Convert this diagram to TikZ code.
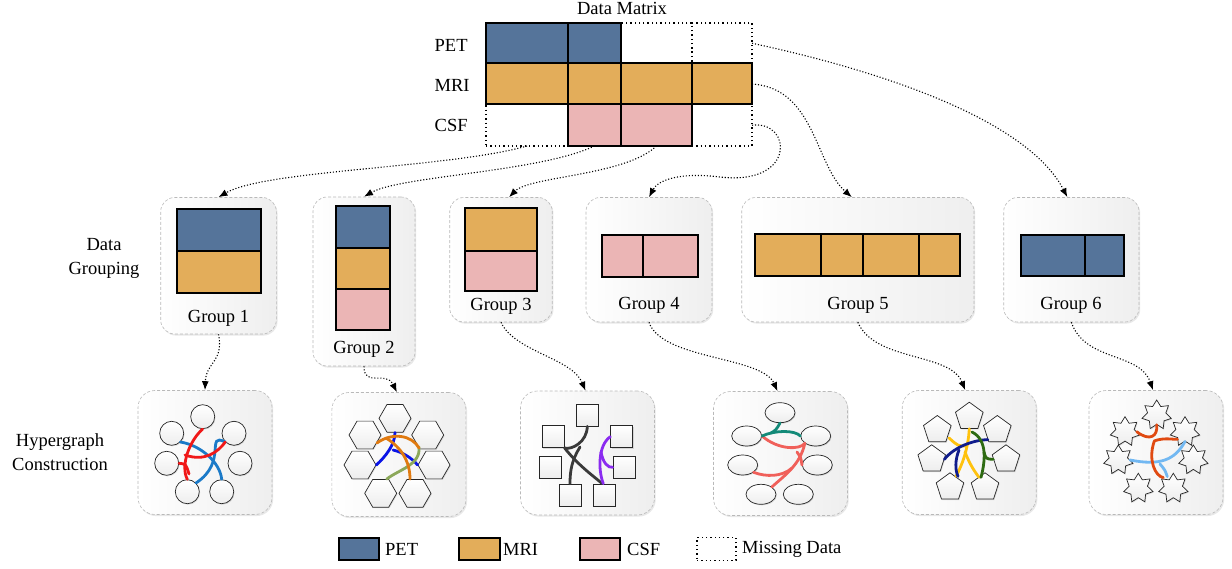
\documentclass[tikz,border=0pt]{standalone}
\usepackage{fontspec}
\setmainfont{Liberation Serif}
\usetikzlibrary{shapes.geometric,shadows,arrows.meta,calc}
\definecolor{petc}{HTML}{55749A}
\definecolor{mric}{HTML}{E3AD5A}
\definecolor{csfc}{HTML}{EBB5B5}
\definecolor{hred}{HTML}{F01818}
\definecolor{hblue}{HTML}{1B7AC8}
\definecolor{horange}{HTML}{E07A10}
\definecolor{hbluedeep}{HTML}{0A14E6}
\definecolor{hgreen}{HTML}{8CA85A}
\definecolor{hgray}{HTML}{3A3A3A}
\definecolor{hpurple}{HTML}{8A2BF0}
\definecolor{hteal}{HTML}{138A78}
\definecolor{hsalmon}{HTML}{F0605A}
\definecolor{hyellow}{HTML}{FFC20E}
\definecolor{hnavy}{HTML}{101C8C}
\definecolor{hdgreen}{HTML}{2E6B12}
\definecolor{hored}{HTML}{E04A12}
\definecolor{hlblue}{HTML}{72B8F2}
\tikzset{
  lbl/.style={font=\fontsize{18.5}{24}\selectfont, inner sep=0pt, align=center},
  cell/.style={draw=black, line width=2pt, inner sep=0pt, outer sep=0pt, anchor=north west},
  miss/.style={draw=black, line width=1.3pt, dash pattern=on 1.3pt off 3pt, inner sep=0pt, outer sep=0pt, anchor=north west},
  gbox/.style={draw=gray!55, densely dashed, line width=0.6pt, rounded corners=14pt,
    left color=white, right color=gray!13, inner sep=0pt,
    drop shadow={shadow xshift=1.2pt, shadow yshift=-1.6pt, opacity=0.18}},
  conn/.style={draw=black, line width=1.1pt, dash pattern=on 1.1pt off 1.9pt,
    -{Latex[length=9pt,width=7pt]}},
  hedge/.style={line width=2.8pt, line cap=round},
  hshape/.style={draw=black!85, line width=0.7pt, top color=white, bottom color=gray!14, inner sep=0pt,
    drop shadow={shadow xshift=0.8pt, shadow yshift=-1pt, opacity=0.25}},
  hcirc/.style={hshape, circle, minimum size=24pt},
  hhex/.style={hshape, regular polygon, regular polygon sides=6, minimum size=32pt},
  hsq/.style={hshape, rectangle, minimum size=22pt},
  hell/.style={hshape, ellipse, minimum width=30pt, minimum height=20pt},
  hpent/.style={hshape, regular polygon, regular polygon sides=5, minimum size=29pt},
  hstar/.style={hshape, star, star points=7, star point ratio=1.6, minimum size=30pt},
}
\begin{document}
\begin{tikzpicture}[x=1pt,y=-1pt]
\useasboundingbox (0,0) rectangle (1232,569);

% ---------- Data matrix ----------
\node[lbl] (title) at (622,8) {Data Matrix};
\node[lbl, anchor=west] (lpet) at (434.5,45) {PET};
\node[lbl, anchor=west] (lmri) at (434.5,85) {MRI};
\node[lbl, anchor=west] (lcsf) at (434.5,125) {CSF};

\node[miss, minimum width=71pt, minimum height=40.5pt] (m13) at (621,23) {};
\node[miss, minimum width=60pt, minimum height=40.5pt] (m14) at (692,23) {};
\node[miss, minimum width=82pt, minimum height=41.5pt] (m31) at (486,104.5) {};
\node[miss, minimum width=60pt, minimum height=41.5pt] (m34) at (692,104.5) {};

\node[cell, fill=petc, minimum width=82pt, minimum height=40.5pt] (m11) at (486,23) {};
\node[cell, fill=petc, minimum width=53pt, minimum height=40.5pt] (m12) at (568,23) {};
\node[cell, fill=mric, minimum width=82pt, minimum height=41pt] (m21) at (486,63.5) {};
\node[cell, fill=mric, minimum width=53pt, minimum height=41pt] (m22) at (568,63.5) {};
\node[cell, fill=mric, minimum width=71pt, minimum height=41pt] (m23) at (621,63.5) {};
\node[cell, fill=mric, minimum width=60pt, minimum height=41pt] (m24) at (692,63.5) {};
\node[cell, fill=csfc, minimum width=53pt, minimum height=41.5pt] (m32) at (568,104.5) {};
\node[cell, fill=csfc, minimum width=71pt, minimum height=41.5pt] (m33) at (621,104.5) {};

% ---------- Left labels ----------
\node[lbl] (tgroup) at (104,258) {Data\\Grouping};
\node[lbl] (thyper) at (60,452) {Hypergraph\\Construction};

% ---------- Group boxes ----------
\node[gbox, minimum width=115.6pt, minimum height=136.5pt] (g1) at (218.5,265.75) {};
\node[gbox, minimum width=102pt, minimum height=169pt] (g2) at (364,281.5) {};
\node[gbox, minimum width=102.5pt, minimum height=124.5pt] (g3) at (501,259.75) {};
\node[gbox, minimum width=126pt, minimum height=124.5pt] (g4) at (649,259.75) {};
\node[gbox, minimum width=232.3pt, minimum height=124.5pt] (g5) at (857.85,259.75) {};
\node[gbox, minimum width=135.3pt, minimum height=124.5pt] (g6) at (1071.35,259.75) {};

% group 1
\node[cell, fill=petc, minimum width=84pt, minimum height=42.3pt] (g1a) at (177,209) {};
\node[cell, fill=mric, minimum width=84pt, minimum height=42pt] (g1b) at (177,251.3) {};
\node[lbl] (g1t) at (218.5,318) {Group 1};
% group 2
\node[cell, fill=petc, minimum width=53.6pt, minimum height=42pt] (g2a) at (336,205.7) {};
\node[cell, fill=mric, minimum width=53.6pt, minimum height=41.6pt] (g2b) at (336,247.7) {};
\node[cell, fill=csfc, minimum width=53.6pt, minimum height=40.7pt] (g2c) at (336,289.3) {};
\node[lbl] (g2t) at (364,349) {Group 2};
% group 3
\node[cell, fill=mric, minimum width=71.5pt, minimum height=42.7pt] (g3a) at (465,208.3) {};
\node[cell, fill=csfc, minimum width=71.5pt, minimum height=39.7pt] (g3b) at (465,251) {};
\node[lbl] (g3t) at (501,306) {Group 3};
% group 4
\node[cell, fill=csfc, minimum width=41.4pt, minimum height=41.7pt] (g4a) at (601.6,235) {};
\node[cell, fill=csfc, minimum width=54.7pt, minimum height=41.7pt] (g4b) at (643,235) {};
\node[lbl] (g4t) at (649,305) {Group 4};
% group 5
\node[cell, fill=mric, minimum width=65.5pt, minimum height=41.5pt] (g5a) at (755,234.5) {};
\node[cell, fill=mric, minimum width=42.3pt, minimum height=41.5pt] (g5b) at (820.5,234.5) {};
\node[cell, fill=mric, minimum width=56.2pt, minimum height=41.5pt] (g5c) at (862.8,234.5) {};
\node[cell, fill=mric, minimum width=40.8pt, minimum height=41.5pt] (g5d) at (919,234.5) {};
\node[lbl] (g5t) at (858,305) {Group 5};
% group 6
\node[cell, fill=petc, minimum width=63.9pt, minimum height=41.5pt] (g6a) at (1020.7,235) {};
\node[cell, fill=petc, minimum width=39.8pt, minimum height=41.5pt] (g6b) at (1084.6,235) {};
\node[lbl] (g6t) at (1071,305) {Group 6};

% ---------- Matrix -> groups ----------
\draw[conn] (m31.south) .. controls (450,168) and (265,170) .. (g1.north);
\draw[conn] (m32.south) .. controls (540,172) and (400,176) .. (g2.north);
\draw[conn] (m33.south) .. controls (625,176) and (530,176) .. ($(g3.north)+(8,0)$);
\draw[conn] (m34.east) .. controls (792,120) and (797,186) .. (720,177) .. controls (680,172) and (658,180) .. (g4.north);
\draw[conn] (m24.east) .. controls (815,88) and (815,165) .. ($(g5.north)+(-6,0)$);
\draw[conn] (m14.east) .. controls (900,75) and (1030,125) .. ($(g6.north)+(-4,0)$);

% ---------- Hypergraph boxes ----------
\foreach \n/\x/\y in {h1/205/452.5, h2/398.9/454.5, h3/587.5/453, h4/780.5/453.5, h5/969.2/452.5, h6/1156/452.5}
  \node[gbox, rounded corners=17pt, minimum width=134pt, minimum height=124pt] (\n) at (\x,\y) {};

% ---------- Groups -> hypergraphs ----------
\draw[conn] (g1.south) .. controls (224,362) and (206,362) .. (h1.north);
\draw[conn] (g2.south) .. controls (364,388) and (386,370) .. ($(h2.north)+(-2,0)$);
\draw[conn] (g3.south) .. controls (515,352) and (572,358) .. ($(h3.north)+(-2,0)$);
\draw[conn] (g4.south) .. controls (662,360) and (762,356) .. ($(h4.north)+(-3,0)$);
\draw[conn] (g5.south) .. controls (875,362) and (950,352) .. ($(h5.north)+(-4,0)$);
\draw[conn] (g6.south) .. controls (1085,362) and (1140,352) .. ($(h6.north)+(-3,0)$);

% ---------- HG1: circles ----------
\node[hcirc] (a1) at (202.7,416.7) {};
\node[hcirc] (a2) at (171.7,433.3) {};
\node[hcirc] (a3) at (234,433.3) {};
\node[hcirc] (a4) at (166.7,463.3) {};
\node[hcirc] (a5) at (240,463.3) {};
\node[hcirc] (a6) at (187.3,491.7) {};
\node[hcirc] (a7) at (221.7,491.7) {};
\draw[hedge, hblue] (a2.south east) .. controls (200,445) and (220,462) .. (a7.north);
\draw[hedge, hblue] (a3.south west) .. controls (205,432) and (228,462) .. (a6.north east);
\draw[hedge, hred] (a1.south) .. controls (190,440) and (180,465) .. (a6.north);
\draw[hedge, hred] (185,455) .. controls (205,462) and (218,452) .. (a3.south west);
\draw[hedge, hred] (a4.east) .. controls (186,464) .. (189,474);

% ---------- HG2: hexagons ----------
\node[hhex] (b1) at (395,418.3) {};
\node[hhex] (b2) at (365,435) {};
\node[hhex] (b3) at (427.7,435) {};
\node[hhex] (b4) at (360,465) {};
\node[hhex] (b5) at (434,465) {};
\node[hhex] (b6) at (380.7,493.3) {};
\node[hhex] (b7) at (415,493.3) {};
\draw[hedge, hbluedeep] (b1.south) .. controls (395,445) and (385,457) .. (b4.east);
\draw[hedge, hbluedeep] (393,450) .. controls (402,452) and (412,458) .. (b5.west);
\draw[hedge, hgreen] (419,447) .. controls (421,465) and (398,470) .. ($(b6.north)+(6,0)$);
\draw[hedge, horange] (377,443) .. controls (392,432) and (412,435) .. (419,448);
\draw[hedge, horange] (386,438) .. controls (402,448) and (410,462) .. ($(b7.north)+(-5,0)$);

% ---------- HG3: squares ----------
\node[hsq] (c1) at (587.3,415) {};
\node[hsq] (c2) at (553.3,436.7) {};
\node[hsq] (c3) at (621.7,436.7) {};
\node[hsq] (c4) at (550,467.3) {};
\node[hsq] (c5) at (624,467.3) {};
\node[hsq] (c6) at (570,495) {};
\node[hsq] (c7) at (604.3,495) {};
\draw[hedge, hgray] (c1.south) .. controls (587,442) and (572,450) .. (c2.south east);
\draw[hedge, hgray] (c2.south east) .. controls (578,465) and (592,475) .. ($(c7.north)+(-2,0)$);
\draw[hedge, hgray] (580,447) .. controls (572,460) and (570,470) .. (c6.north);
\draw[hedge, hpurple] (c3.west) .. controls (598,445) and (598,470) .. ($(c7.north)+(-1,0)$);
\draw[hedge, hpurple] (601,452) .. controls (603,463) and (608,468) .. (c5.west);

% ---------- HG4: ellipses ----------
\node[hell] (d1) at (780,412.7) {};
\node[hell] (d2) at (746.7,436) {};
\node[hell] (d3) at (815.7,436) {};
\node[hell] (d4) at (742.7,465) {};
\node[hell] (d5) at (817.3,465) {};
\node[hell] (d6) at (761,494.3) {};
\node[hell] (d7) at (798.3,494.3) {};
\draw[hedge, hsalmon] (d2.east) .. controls (778,450) and (800,450) .. (d3.south west);
\draw[hedge, hsalmon] (d3.south west) .. controls (800,465) and (785,475) .. (d6.north east);
\draw[hedge, hsalmon] (d4.south east) .. controls (766,477) and (782,477) .. (792,468);
\draw[hedge, hsalmon] (d5.west) .. controls (801,458) .. (797,452);
\draw[hedge, hteal] (d2.east) .. controls (775,430) and (795,430) .. (d3.west);
\draw[hedge, hteal] (771,433) .. controls (776,430) .. (d1.south);

% ---------- HG5: pentagons ----------
\node[hpent] (e1) at (969.3,416.7) {};
\node[hpent] (e2) at (937.3,430) {};
\node[hpent] (e3) at (997.3,430) {};
\node[hpent] (e4) at (931.7,459.3) {};
\node[hpent] (e5) at (1006,459.3) {};
\node[hpent] (e6) at (950,487.3) {};
\node[hpent] (e7) at (985,487.3) {};
\draw[hedge, hyellow] (e1.south) .. controls (968,450) and (962,465) .. ($(e6.north)+(6,4)$);
\draw[hedge, hyellow] (949,438) .. controls (958,446) .. (966,446);
\draw[hedge, hyellow] (965,452) .. controls (970,465) and (975,472) .. ($(e7.north)+(-6,5)$);
\draw[hedge, hnavy] (e4.east) .. controls (955,446) and (975,440) .. (e3.south west);
\draw[hedge, hnavy] (959,450) .. controls (955,460) and (955,470) .. ($(e6.north)+(8,4)$);
\draw[hedge, hdgreen] (972,432) .. controls (988,440) and (985,462) .. ($(e7.north)+(-4,5)$);
\draw[hedge, hdgreen] (984,452) .. controls (986,459) .. (e5.west);

% ---------- HG6: stars ----------
\node[hstar] (f1) at (1156.7,415) {};
\node[hstar] (f2) at (1125,431.7) {};
\node[hstar] (f3) at (1185,431.7) {};
\node[hstar] (f4) at (1118.3,460) {};
\node[hstar] (f5) at (1193.3,460) {};
\node[hstar] (f6) at (1138.3,488.3) {};
\node[hstar] (f7) at (1173.3,488.3) {};
\draw[hedge, hlblue] (f4.east) .. controls (1160,466) and (1175,460) .. (f3.south);
\draw[hedge, hlblue] (1160,464) .. controls (1165,470) .. ($(f7.north)+(-6,4)$);
\draw[hedge, hored] (f2.east) .. controls (1150,442) and (1158,436) .. (f1.south);
\draw[hedge, hored] (1154,441) .. controls (1165,437) and (1175,440) .. (f3.south west);
\draw[hedge, hored] (1154,442) .. controls (1148,460) and (1155,476) .. ($(f7.north)+(-10,5)$);

% ---------- Legend ----------
\node[cell, anchor=center, fill=petc, minimum width=40pt, minimum height=22.5pt] (lp) at (359,549) {};
\node[lbl, anchor=west] (lpt) at (385,549) {PET};
\node[cell, anchor=center, fill=mric, minimum width=41pt, minimum height=22.5pt] (lm) at (479.5,549) {};
\node[lbl, anchor=west] (lmt) at (503,549) {MRI};
\node[cell, anchor=center, fill=csfc, minimum width=40pt, minimum height=22.5pt] (lc) at (600,549) {};
\node[lbl, anchor=west] (lct) at (627,549) {CSF};
\node[miss, anchor=center, minimum width=39pt, minimum height=22.5pt] (lx) at (716.5,549) {};
\node[lbl, anchor=west] (lxt) at (742,549) {Missing Data};
\end{tikzpicture}
\end{document}
